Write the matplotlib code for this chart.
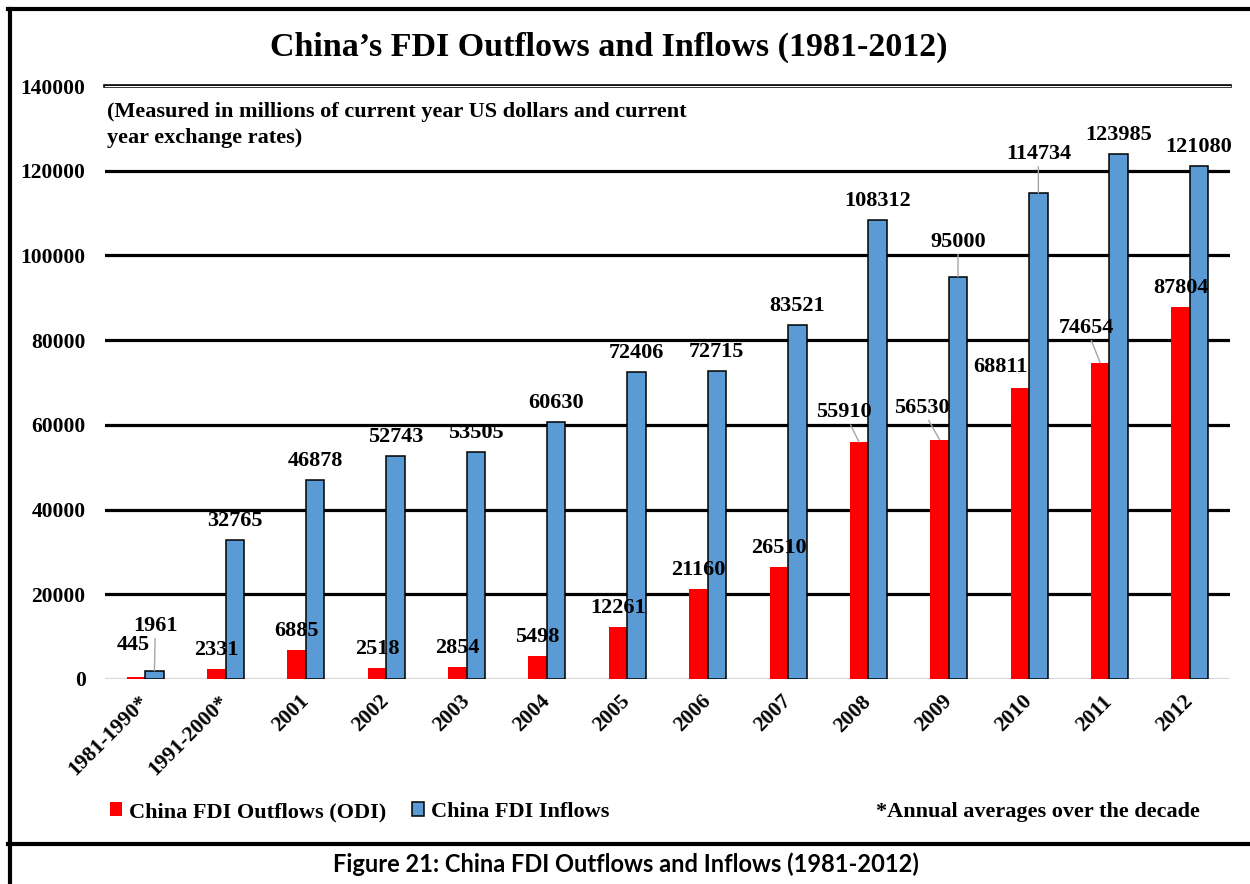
import matplotlib
matplotlib.use("Agg")
import matplotlib.pyplot as plt
from matplotlib.lines import Line2D
from matplotlib.patches import Patch
import numpy as np

plt.rcParams['font.family'] = ['Liberation Serif', 'DejaVu Serif']
plt.rcParams['font.weight'] = 'bold'

# FDI values, millions of current US dollars
periods = ['1981-1990*', '1991-2000*', '2001', '2002', '2003', '2004', '2005',
           '2006', '2007', '2008', '2009', '2010', '2011', '2012']
outflows = [445, 2331, 6885, 2518, 2854, 5498, 12261, 21160, 26510,
            55910, 56530, 68811, 74654, 87804]
inflows = [1961, 32765, 46878, 52743, 53505, 60630, 72406, 72715, 83521,
           108312, 95000, 114734, 123985, 121080]
yticks = [0, 20000, 40000, 60000, 80000, 100000, 120000, 140000]

# label nudges in pixels (dx, dy above bar top, leader line?)
out_nudge = {0: (-3, 32, False), 9: (-15, 30, True), 10: (-18, 32, True),
             11: (-19, 21, False), 12: (-14, 35, True)}
in_nudge = {0: (1, 45, True), 10: (0, 35, True), 11: (0, 39, True)}

RED = '#FF0000'
BLUE = '#5B9BD5'

fig = plt.figure(figsize=(12.5, 8.84), dpi=100)
ax = fig.add_axes([105 / 1250, 1 - 679 / 884, 1125 / 1250, 593 / 884])

x = np.arange(len(periods))
w = 0.23
ax.bar(x - w / 2, outflows, w, color=RED, zorder=3)
ax.bar(x + w / 2, inflows, w, color=BLUE, edgecolor='black', linewidth=1.1, zorder=3)

ax.set_xlim(-0.5, len(periods) - 0.5)
ax.set_ylim(0, 140000)
for sp in ax.spines.values():
    sp.set_visible(False)

# grid: thick black lines, double rule on top, light baseline
for v in yticks[1:-1]:
    ax.axhline(v, color='black', lw=2.3, zorder=1)
ax.axhline(140000, color='black', lw=2.6, zorder=1, clip_on=False)
ax.axhline(140000, color='white', lw=0.8, zorder=1, clip_on=False)
ax.axhline(0, color='#D9D9D9', lw=1.6, zorder=2)

ax.set_yticks(yticks)
ax.set_yticklabels([str(v) for v in yticks], fontsize=15.5, fontweight='bold')
ax.set_xticks(x)
ax.set_xticklabels(periods, fontsize=15.5, fontweight='bold', rotation=45,
                   ha='right', va='center', rotation_mode='anchor')
ax.tick_params(axis='both', length=0)
ax.tick_params(axis='y', pad=14)
ax.tick_params(axis='x', pad=14)


def put_labels(xs, vals, nudges):
    for i, (xi, v) in enumerate(zip(xs, vals)):
        dx, dy, lead = nudges.get(i, (0, 19, False))
        arrow = dict(arrowstyle='-', color='#A6A6A6', lw=1.0,
                     shrinkA=0, shrinkB=0) if lead else None
        ax.annotate(str(v), xy=(xi, v), xytext=(dx, dy),
                    textcoords='offset pixels', ha='center', va='center',
                    fontsize=16, fontweight='bold', zorder=5,
                    arrowprops=arrow, annotation_clip=False)


put_labels(x - w / 2, outflows, out_nudge)
put_labels(x + w / 2, inflows, in_nudge)

# titles
fig.text(609 / 1250, 1 - 47 / 884, 'China\u2019s FDI Outflows and Inflows (1981-2012)',
         ha='center', va='center', fontsize=24.5, fontweight='bold')
fig.text(107 / 1250, 1 - 125 / 884,
         '(Measured in millions of current year US dollars and current\nyear exchange rates)',
         ha='left', va='center', fontsize=16, fontweight='bold', linespacing=1.4)

# legend and footnote
handles = [Patch(facecolor=RED, edgecolor='none'),
           Patch(facecolor=BLUE, edgecolor='black', linewidth=1.1)]
fig.legend(handles, ['China FDI Outflows (ODI)', 'China FDI Inflows'],
           loc='center left', bbox_to_anchor=(110 / 1250, 1 - 812 / 884),
           ncol=2, frameon=False, handlelength=0.55, handleheight=0.55,
           handletextpad=0.3, columnspacing=1.15, borderpad=0, borderaxespad=0,
           prop={'family': 'Liberation Serif', 'weight': 'bold', 'size': 16})
fig.text(1200 / 1250, 1 - 812 / 884, '*Annual averages over the decade',
         ha='right', va='center', fontsize=16, fontweight='bold')

# frame around the chart and caption strip
lw_frame = 3.0
fig.add_artist(Line2D([9.5 / 1250, 9.5 / 1250], [1 - 9 / 884, 0], color='black',
                      lw=lw_frame, transform=fig.transFigure))
fig.add_artist(Line2D([8 / 1250, 1], [1 - 9 / 884, 1 - 9 / 884], color='black',
                      lw=lw_frame, transform=fig.transFigure))
fig.add_artist(Line2D([8 / 1250, 1], [1 - 844 / 884, 1 - 844 / 884], color='black',
                      lw=lw_frame, transform=fig.transFigure))

fig.text(626 / 1250, 1 - 864 / 884, 'Figure 21: China FDI Outflows and Inflows (1981-2012)',
         ha='center', va='center', fontsize=17, fontweight='bold', family='Lato')

fig.savefig('out.png', dpi=100, facecolor='white')
